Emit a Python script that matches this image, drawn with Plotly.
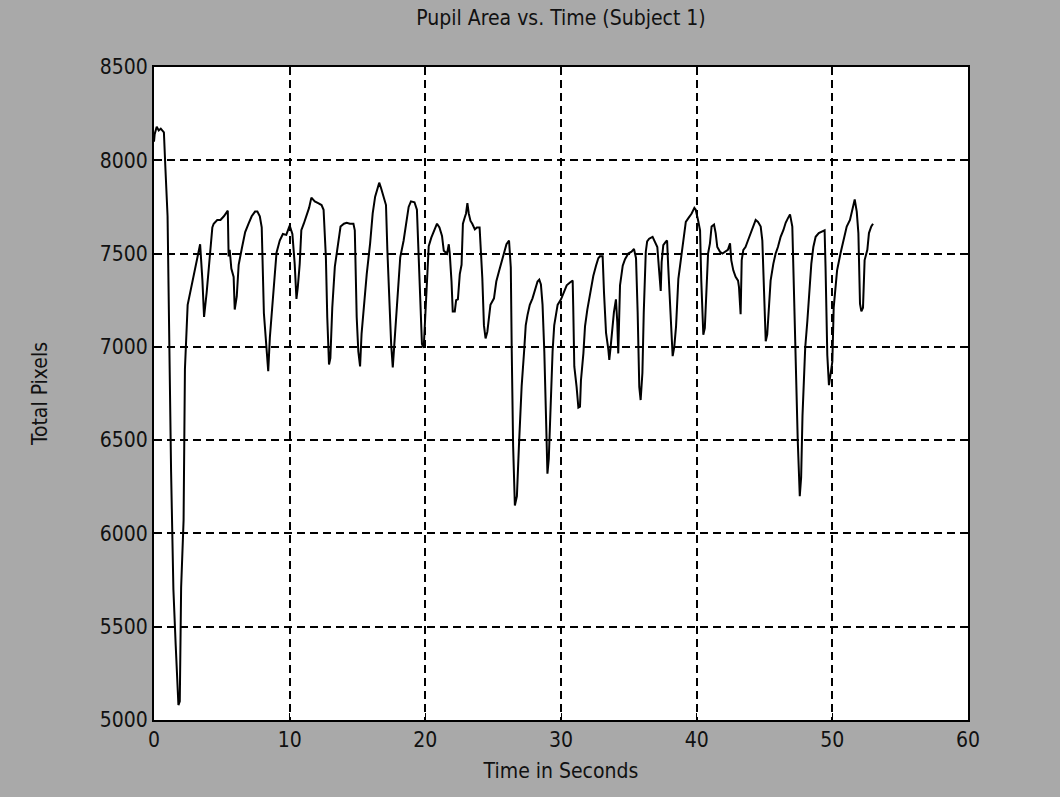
import plotly.graph_objects as go

# Pupil area samples: time (s) and total pupil pixels
time_s = [
    0, 0.05, 0.2, 0.35, 0.5, 0.73, 0.83, 1.0, 1.26, 1.43, 1.6, 1.67, 1.8, 1.9,
    2.0, 2.18, 2.28, 2.48, 2.72, 2.96, 3.25, 3.4, 3.57, 3.69, 3.88, 4.05, 4.17,
    4.3, 4.4, 4.66, 4.9, 5.15, 5.44, 5.5, 5.58, 5.7, 5.87, 5.95, 6.1, 6.24,
    6.48, 6.72, 6.97, 7.2, 7.45, 7.62, 7.8, 7.94, 8.1, 8.25, 8.42, 8.54, 8.74,
    8.9, 9.03, 9.27, 9.5, 9.75, 10.0, 10.2, 10.37, 10.5, 10.6, 10.74, 10.86,
    11.04, 11.23, 11.43, 11.6, 11.85, 12.1, 12.35, 12.5, 12.67, 12.77, 12.9,
    13.0, 13.14, 13.33, 13.58, 13.75, 14.0, 14.2, 14.44, 14.7, 14.8, 14.94,
    15.06, 15.19, 15.3, 15.48, 15.68, 15.93, 16.12, 16.3, 16.47, 16.6, 16.74,
    16.9, 17.1, 17.2, 17.33, 17.48, 17.6, 17.78, 17.95, 18.15, 18.4, 18.6,
    18.77, 18.94, 19.2, 19.38, 19.5, 19.63, 19.75, 19.88, 20.0, 20.12, 20.25,
    20.44, 20.62, 20.86, 21.04, 21.23, 21.36, 21.48, 21.6, 21.73, 21.8, 21.93,
    22.02, 22.17, 22.27, 22.4, 22.54, 22.67, 22.77, 22.91, 23.0, 23.1, 23.2,
    23.33, 23.46, 23.65, 23.8, 24.0, 24.07, 24.2, 24.32, 24.44, 24.57, 24.7,
    24.8, 25.06, 25.23, 25.43, 25.63, 25.8, 25.98, 26.17, 26.3, 26.37, 26.47,
    26.6, 26.75, 26.9, 27.1, 27.28, 27.4, 27.53, 27.7, 27.9, 28.1, 28.27,
    28.4, 28.52, 28.64, 28.77, 28.9, 29.0, 29.1, 29.26, 29.38, 29.5, 29.62,
    29.75, 30.0, 30.17, 30.42, 30.66, 30.86, 30.9, 30.98, 31.15, 31.28, 31.4,
    31.47, 31.65, 31.77, 31.94, 32.14, 32.38, 32.58, 32.75, 32.87, 33.07,
    33.17, 33.32, 33.49, 33.56, 33.66, 33.78, 33.9, 34.05, 34.15, 34.22, 34.3,
    34.35, 34.55, 34.72, 34.96, 35.2, 35.38, 35.53, 35.65, 35.77, 35.87, 36.0,
    36.1, 36.25, 36.35, 36.5, 36.75, 36.93, 37.1, 37.22, 37.35, 37.42, 37.54,
    37.74, 37.82, 37.9, 38.03, 38.16, 38.23, 38.35, 38.48, 38.65, 38.82, 39.0,
    39.2, 39.39, 39.63, 39.83, 39.93, 40.1, 40.25, 40.34, 40.49, 40.6, 40.74,
    40.84, 40.98, 41.1, 41.28, 41.4, 41.52, 41.72, 41.9, 42.14, 42.3, 42.46,
    42.55, 42.7, 42.87, 43.05, 43.12, 43.24, 43.32, 43.44, 43.6, 43.78, 43.98,
    44.18, 44.35, 44.52, 44.72, 44.84, 44.96, 45.09, 45.2, 45.33, 45.45, 45.65,
    45.82, 45.99, 46.19, 46.39, 46.56, 46.73, 46.88, 47.05, 47.17, 47.3, 47.45,
    47.6, 47.7, 47.8, 47.9, 48.0, 48.16, 48.28, 48.45, 48.6, 48.77, 49.0,
    49.26, 49.43, 49.5, 49.63, 49.75, 49.88, 50.0, 50.1, 50.35, 50.6, 50.86,
    51.06, 51.3, 51.47, 51.65, 51.8, 51.92, 52.04, 52.14, 52.26, 52.38, 52.58,
    52.7, 52.87, 53.0,
]
total_pixels = [
    8100, 8140, 8180, 8160, 8170, 8150, 7975, 7700, 6330, 5700, 5400, 5310, 5080, 5100,
    5710, 6070, 6880, 7225, 7310, 7400, 7505, 7550, 7355, 7160, 7290, 7420, 7530,
    7640, 7660, 7680, 7680, 7700, 7730, 7485, 7520, 7420, 7375, 7200, 7270, 7440,
    7530, 7615, 7660, 7700, 7725, 7725, 7700, 7640, 7180, 7005, 6870, 7050, 7225,
    7375, 7505, 7570, 7605, 7600, 7650, 7605, 7445, 7257, 7320, 7445, 7625,
    7660, 7700, 7745, 7800, 7780, 7770, 7760, 7735, 7480, 7160, 6905,
    6940, 7210, 7430, 7555, 7645, 7660, 7665, 7660, 7660, 7625, 7160,
    6975, 6895, 7070, 7230, 7390, 7555, 7715, 7805, 7850, 7880, 7850,
    7815, 7760, 7520, 7230, 7015, 6890, 7085, 7300, 7480, 7570, 7680,
    7750, 7780, 7775, 7735, 7520, 7195, 7015, 6995, 7200, 7360, 7540,
    7585, 7620, 7660, 7640, 7595, 7515, 7505, 7500, 7550, 7500, 7350,
    7190, 7190, 7250, 7255, 7390, 7440, 7660, 7695, 7715, 7770, 7715,
    7675, 7660, 7630, 7640, 7640, 7550, 7370, 7115, 7045, 7080, 7155,
    7225, 7260, 7350, 7405, 7460, 7515, 7550, 7570, 7425, 6975, 6470,
    6150, 6200, 6470, 6790, 6975, 7115, 7170, 7225, 7260, 7315, 7350,
    7360, 7335, 7225, 6975, 6610, 6320, 6400, 6790, 6975, 7115, 7170,
    7225, 7255, 7290, 7330, 7345, 7355, 7220, 6895, 6785, 6675, 6680,
    6820, 6965, 7110, 7200, 7290, 7380, 7435, 7475, 7485, 7485,
    7290, 7075, 6985, 6930, 7000, 7110, 7185, 7255, 7130, 6965, 7200,
    7330, 7435, 7470, 7500, 7510, 7525, 7475, 7185, 6785, 6715, 6860,
    7185, 7510, 7565, 7580, 7590, 7565, 7535, 7420, 7300, 7455, 7545,
    7565, 7570, 7435, 7220, 7000, 6950, 7000, 7110, 7365, 7455, 7565,
    7670, 7690, 7715, 7745, 7735, 7680, 7625, 7355, 7065, 7100, 7375,
    7500, 7555, 7645, 7655, 7610, 7535, 7510, 7500, 7510, 7520, 7555,
    7465, 7410, 7375, 7355, 7320, 7175, 7465, 7520, 7535, 7570, 7610,
    7645, 7680, 7670, 7645, 7570, 7355, 7030, 7065, 7210, 7355, 7445,
    7500, 7535, 7590, 7625, 7665, 7690, 7710, 7645, 7285, 6955, 6500,
    6200, 6300, 6630, 6830, 6995, 7140, 7265, 7445, 7535, 7590, 7610,
    7620, 7625, 7425, 6955, 6795, 6850, 6920, 7210, 7410, 7500, 7590,
    7645, 7680, 7735, 7790, 7725, 7610, 7230, 7190, 7210, 7465, 7520,
    7610, 7645, 7660,
]

x_ticks = [0, 10, 20, 30, 40, 50, 60]
y_ticks = [5000, 5500, 6000, 6500, 7000, 7500, 8000, 8500]

FONT = "DejaVu Sans Condensed, Liberation Sans Narrow, Liberation Sans, Arial, sans-serif"
TXT = dict(family=FONT, size=21, color="#111111")

fig = go.Figure()
fig.add_trace(go.Scatter(
    x=time_s, y=total_pixels, mode="lines",
    line=dict(color="black", width=2),
    showlegend=False,
))

axis_common = dict(
    showline=True, linecolor="black", linewidth=2, mirror="ticks",
    ticks="inside", ticklen=7, tickcolor="black", tickwidth=1,
    showgrid=True, gridcolor="black", gridwidth=1.8, griddash="8px,5px",
    zeroline=False,
    tickfont=TXT,
)

fig.update_xaxes(
    range=[0, 60], tickvals=x_ticks, ticktext=[str(v) for v in x_ticks],
    title=dict(text="Time in Seconds", font=TXT, standoff=12),
    **axis_common,
)
fig.update_yaxes(
    range=[5000, 8500], tickvals=y_ticks, ticktext=[str(v) for v in y_ticks],
    title=dict(text="Total Pixels", font=TXT, standoff=46),
    **axis_common,
)

fig.update_layout(
    width=1060, height=797,
    margin=dict(l=154, r=92, t=67, b=77),
    paper_bgcolor="#a9a9a9",
    plot_bgcolor="white",
    title=dict(
        text="Pupil Area vs. Time (Subject 1)",
        font=TXT,
        x=(154 + 968) / 2 / 1060, xanchor="center",
        y=1 - 18 / 797, yanchor="middle",
    ),
)

fig.write_html("out.html")
